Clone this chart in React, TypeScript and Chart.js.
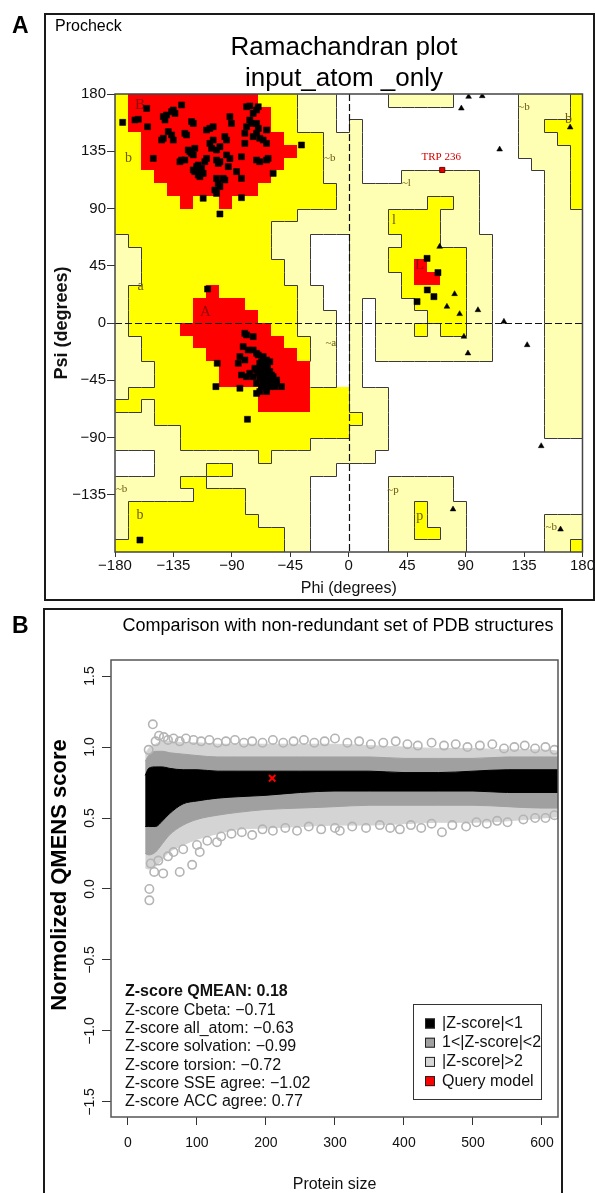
import React, { useEffect, useRef } from "react";
import { Chart, registerables } from "chart.js";

Chart.register(...registerables);

const SANS = "'Liberation Sans', Arial, Helvetica, sans-serif";
const SERIF = "'Liberation Serif', 'DejaVu Serif', 'Times New Roman', serif";
Chart.defaults.font.family = SANS;

const MINUS = "\u2212";
const signed = (v: number, digits = 0) => (v < 0 ? MINUS : "") + Math.abs(v).toFixed(digits);

// ================= Panel A : Ramachandran plot =================
const PHI_TICKS = [-180, -135, -90, -45, 0, 45, 90, 135, 180];
const PSI_TICKS = [-135, -90, -45, 0, 45, 90, 135, 180];
const CELL_DEG = 10;
// rows: psi 180 -> -180 ; columns: phi -180 -> 180 (10 degree cells)
// R = most favoured, Y = additional allowed, G = generously allowed, . = disallowed
const REGION_ROWS = [
  "YRRRRRRRRRRYYYGGG." + "...GGGGG.....GGGGY",
  "YRRRRRRRRRRRYYGGG." + ".............GGGGY",
  "YRRRRRRRRRRRYYGGG." + "G............GGYYY",
  "YYRRRRRRRRRRRYYYGG" + "G............GGGYY",
  "YYRRRRRRRRRRRRYYGG" + "G............GGGGY",
  "YYRRRRRRRRRRRYYYGG" + "G.............GGGY",
  "YYYRRRRRRRRRYYYYGG" + "G...GGGGGG.....GGY",
  "YYYYRRRRRRRYYYYYYG" + "GGGGGGGGGG.....GGY",
  "YYYYYRYYRYYYYYYYYG" + "GGGGGGYYGG.....GGY",
  "YYYYYYYYYYYYYYGGGG" + "GGGYYYYGGG.....GGG",
  "YYYYYYYYYYYYGGGGGG" + "GGGYYYYGGG.....GGG",
  "GYYYYYYYYYYYGGG..." + "GGGGYYYGGGG....GGG",
  "GGYYYYYYYYYYGGG..." + "GGGYYYYYYGG....GGG",
  "GGYYYYYYYYYYYGG..." + "GGGYYRYYYGG....GGG",
  "GGYYYYYYYYYYYGG..." + "GGGGYRRYYGG....GGG",
  "GYYYYYYRYYYYYYGG.." + "GGGGYYYYYGG....GGG",
  "GYYYYYRRRRYYYYGG.." + "G.GGGYYYYGG....GGG",
  "GYYYYYRRRRRYYYGGG." + "G.GGGGYYYGG....GGG",
  "GYYYYRRRRRRRYYGGG." + "G.GGGYGYYGG....GGG",
  "GGYYYYRRRRRRRYYGG." + "G.GGGGGGGGG....GGG",
  "GGYYYYYRRRRRRRYGG." + "G.GGGGGGGGG....GGG",
  "GGGYYYYYRRRRRRRGG." + "G..............GGG",
  "GGGYYYYYRRRRRRRGG." + "G..............GGG",
  "GYYYYYYYYYYRRRRYYY" + "GGG............GGG",
  "YYGYYYYYYYYRRRRYYY" + "GGG............GGG",
  "GGGYYYYYYYYYYYYYYY" + "YGG............GGG",
  "GGGGGYYYYYYYYYYYYY" + "GGG............GGG",
  "GGGGGYYYYYYYYYYGGG" + "GGG...............",
  "...GGGGGGGGYGGGGGG" + "GG................",
  "...GGGGYYGGGGGGGG." + "..................",
  "GGGGGYYGGGGGGGG..." + "...GGGGG..........",
  "GGGGGGYYYYGGGGG..." + "...GGGGG..........",
  "GYYYYYYYYYGGGGG..." + "...GGYGGG.........",
  "GYYYYYYYYYYGGGG..." + "...GGYGGG......GGG",
  "GYYYYYYYYYYYYGG..." + "...GGYYGG......GGG",
  "YYYYYYYYYYYYYGG..." + "...GGGGGG......GGY",
];
const REGION_COLORS: Record<string, string> = { R: "#ff0000", Y: "#ffff00", G: "#ffffb4", ".": "#ffffff" };

// non-glycine residues (black squares)
const RESIDUE_PHI = [
  -174.1, -164.6, -162.1, -155.6, -154.9, -142.8, -141.5, -140.3, -136.4, -135.1, -133.8, -128.7, -121.0, -119.7,
  -144.1, -142.8, -136.4, -135.1, -139.0, -126.2, -124.9, -150.5, -128.7, -126.2, -130.0, -123.6, -122.3, -121.0,
  -119.7, -118.5, -117.2, -115.9, -114.6, -113.3, -112.1, -110.8, -109.5, -119.7, -118.5, -115.9, -114.6, -106.9,
  -104.4, -105.6, -101.8, -99.2, -109.5, -106.9, -104.4, -101.8, -100.5, -99.2, -101.8, -100.5, -99.2, -103.1,
  -101.8, -95.4, -94.1, -91.5, -90.3, -96.7, -95.4, -86.4, -82.6, -82.6, -80.0, -80.0, -78.7, -76.2, -74.9, -73.6,
  -71.0, -69.7, -78.7, -76.2, -73.6, -71.0, -68.5, -65.9, -63.3, -71.0, -68.5, -63.3, -62.1, -58.2, -36.4, -112.1,
  -82.6, -99.2, -71.0, -69.7, -63.3, -94.1, -91.5, -92.8, -160.8,
  -108.7, -80.0, -78.7, -73.6, -81.3, -77.4, -73.6, -71.0, -69.7, -65.9, -63.3, -60.8, -68.5, -67.2, -64.6, -63.3,
  -62.1, -60.8, -58.2, -59.5, -65.9, -67.2, -63.3, -71.0, -73.6, -76.2, -78.7, -82.6, -83.8, -85.1, -83.8, -80.0,
  -55.6, -51.8, -101.3, -102.3, -78.0, -65.9, -64.6, -62.1, -68.5, -71.0, -55.6, -56.9, -63.3, -67.2, -69.7, -72.3,
  -60.8, -63.3, -65.4, -62.6, -68.5, -71.0, -59.5, -65.9, -67.2, -64.6,
  60.3, 68.7, 60.5, 65.6, 52.6,
];
const RESIDUE_PSI = [
  157.7, 159.6, 160.1, 168.7, 154.3, 162.2, 159.6, 163.5, 166.1, 167.4, 164.8, 171.4, 158.3, 156.9,
  143.8, 145.2, 147.8, 143.8, 150.4, 149.1, 147.8, 129.4, 128.1, 128.1, 126.8, 136.0, 134.7, 133.4,
  132.1, 137.3, 122.9, 124.2, 120.3, 121.6, 117.6, 126.8, 129.4, 120.3, 119.0, 116.3, 115.0, 141.2,
  143.8, 137.3, 136.0, 138.6, 151.7, 153.0, 154.3, 128.1, 125.5, 126.8, 113.7, 109.8, 107.2, 104.5,
  101.9, 146.5, 143.8, 162.2, 156.9, 113.7, 112.4, 119.0, 113.7, 130.7, 141.2, 149.1, 154.3, 159.6, 156.9, 164.8,
  167.4, 170.0, 170.0, 170.6, 146.5, 149.1, 145.2, 143.8, 141.2, 128.1, 126.8, 128.1, 129.4, 117.6, 139.9, 98.0,
  98.5, 85.7, 156.9, 153.0, 151.7, 132.1, 129.4, 122.9, -170.6,
  26.7, -8.1, -9.4, -10.7, -18.6, -21.2, -21.2, -23.8, -25.1, -26.4, -29.1, -30.4, -31.7, -34.3, -35.6, -36.9,
  -39.5, -38.2, -42.2, -44.8, -47.4, -50.0, -51.3, -47.4, -42.2, -39.5, -42.2, -40.9, -51.3, -31.7, -26.4, -29.1,
  -44.8, -50.0, -31.7, -50.0, -75.7, -40.9, -43.5, -46.1, -53.9, -55.3, -47.4, -50.0, -53.9, -36.9, -39.5, -35.6,
  -50.0, -44.8, -39.0, -33.5, -43.5, -36.9, -40.9, -44.8, -30.4, -31.7,
  50.8, 39.6, 26.0, 20.7, 16.8,
];
// glycine residues (black triangles)
const GLYCINE_PHI = [92.3, 102.8, 86.7, 116.2, 170.5, 70.0, 81.5, 75.6, 85.4, 99.5, 119.5, 88.7, 91.8, 137.4, 148.2, 80.3, 163.1];
const GLYCINE_PSI = [177.9, 178.4, 168.7, 136.5, 153.8, 60.0, 22.8, 12.9, 7.1, 10.2, 1.1, -10.7, -23.8, -17.3, -96.7, -146.4, -162.2];
// flagged residue in disallowed region
const FLAGGED_PHI = [72.0];
const FLAGGED_PSI = [120.3];
const FLAGGED_NAME = ["TRP 236"];
// region labels
const REGION_LABEL_TEXT = ["B", "b", "a", "A", "~b", "~a", "~b", "b", "~l", "l", "L", "~b", "b", "~p", "p", "~b"];
const REGION_LABEL_PHI = [-160.8, -169.7, -160.3, -110.3, -14.6, -13.8, -174.9, -160.8, 44.4, 34.9, 54.6, 134.9, 169.2, 34.1, 54.6, 155.9];
const REGION_LABEL_PSI = [171.4, 129.4, 28.6, 8.9, 129.4, -16.0, -130.7, -150.9, 109.8, 80.4, 45.6, 170.0, 160.1, -131.2, -151.7, -160.1];
const RAMA_TITLE = ["Ramachandran plot", "input_atom _only"];

// ================= Panel B : QMEAN comparison =================
const SIZE_TICKS = [0, 100, 200, 300, 400, 500, 600];
const SCORE_TICKS = [-1.5, -1.0, -0.5, 0.0, 0.5, 1.0, 1.5];
const SIZE_GRID = [25, 30, 40, 50, 60, 80, 100, 130, 160, 200, 250, 300, 350, 400, 450, 500, 550, 600, 625];
const BLACK_UPPER = [0.80, 0.85, 0.86, 0.86, 0.85, 0.84, 0.84, 0.83, 0.83, 0.83, 0.83, 0.83, 0.83, 0.82, 0.82, 0.83, 0.84, 0.84, 0.84];
const BLACK_LOWER = [0.44, 0.44, 0.44, 0.48, 0.53, 0.60, 0.62, 0.64, 0.65, 0.66, 0.68, 0.69, 0.69, 0.69, 0.69, 0.69, 0.68, 0.68, 0.68];
const GREY_UPPER = [0.90, 0.94, 0.97, 0.97, 0.96, 0.95, 0.94, 0.93, 0.93, 0.93, 0.93, 0.93, 0.93, 0.92, 0.92, 0.92, 0.93, 0.93, 0.93];
const GREY_LOWER = [0.25, 0.24, 0.26, 0.32, 0.38, 0.45, 0.49, 0.52, 0.54, 0.56, 0.57, 0.58, 0.59, 0.59, 0.59, 0.59, 0.58, 0.57, 0.57];
const LIGHT_UPPER = [0.95, 0.99, 1.02, 1.04, 1.04, 1.03, 1.03, 1.02, 1.02, 1.02, 1.02, 1.02, 1.01, 1.00, 0.99, 0.99, 0.98, 0.98, 0.97];
const LIGHT_LOWER = [0.15, 0.14, 0.16, 0.21, 0.26, 0.31, 0.35, 0.39, 0.42, 0.43, 0.44, 0.45, 0.45, 0.46, 0.47, 0.47, 0.48, 0.50, 0.51];
// individual circles visible at the edges of the cloud
const OUTLIER_SIZE = [
  30, 36, 40, 45, 52, 58, 66, 75, 84, 95, 106, 118, 130, 142, 155, 168, 180, 195, 210, 225, 240, 255,
  270, 285, 300, 318, 335, 352, 370, 388, 405, 420, 440, 458, 475, 492, 510, 528, 545, 560, 575, 590, 605, 618,
  31, 31, 33, 38, 44, 51, 58, 66, 75, 80, 93, 100, 104, 115, 129, 135, 150, 165, 180, 195, 210, 228, 245,
  262, 280, 300, 307, 325, 345, 365, 380, 394, 410, 425, 440, 455, 470, 490, 505, 520, 535, 550, 573, 590, 605, 618,
];
const OUTLIER_SCORE = [
  0.98, 1.16, 1.04, 1.08, 1.07, 1.05, 1.06, 1.04, 1.06, 1.05, 1.04, 1.05, 1.03, 1.04, 1.05, 1.03, 1.04, 1.03, 1.05, 1.03, 1.04, 1.05,
  1.03, 1.04, 1.06, 1.03, 1.04, 1.02, 1.03, 1.04, 1.02, 1.01, 1.03, 1.01, 1.02, 1.00, 1.01, 1.02, 0.99, 1.00, 1.01, 0.99, 1.00, 0.98,
  0.00, -0.08, 0.18, 0.12, 0.20, 0.11, 0.23, 0.26, 0.12, 0.28, 0.17, 0.31, 0.26, 0.34, 0.33, 0.37, 0.39, 0.40, 0.38, 0.42, 0.41, 0.43, 0.41,
  0.44, 0.42, 0.43, 0.41, 0.44, 0.43, 0.45, 0.43, 0.42, 0.45, 0.43, 0.46, 0.40, 0.45, 0.44, 0.47, 0.46, 0.48, 0.47, 0.49, 0.50, 0.50, 0.52,
];
const QUERY_SIZE = [209];
const QUERY_SCORE = [0.78];
const ZSCORE_LINES = [
  "Z-score QMEAN: 0.18",
  "Z-score Cbeta: \u22120.71",
  "Z-score all_atom: \u22120.63",
  "Z-score solvation: \u22120.99",
  "Z-score torsion: \u22120.72",
  "Z-score SSE agree: \u22121.02",
  "Z-score ACC agree: 0.77",
];
const LEGEND_LABELS = ["|Z-score|<1", "1<|Z-score|<2", "|Z-score|>2", "Query model"];
const LEGEND_COLORS = ["#000000", "#a0a0a0", "#d6d6d6", "#ff0000"];
const QMEAN_TITLE = "Comparison with non-redundant set of PDB structures";

const toPoints = (xs: number[], ys: number[]) => xs.map((x, i) => ({ x, y: ys[i] }));

function RamachandranChart() {
  const ref = useRef<HTMLCanvasElement | null>(null);
  useEffect(() => {
    if (!ref.current) return;
    const regionPlugin = {
      id: "ramaRegions",
      beforeDatasetsDraw(chart: any) {
        const { ctx, chartArea: a, scales } = chart;
        const x = scales.x, y = scales.y;
        ctx.save();
        ctx.beginPath();
        ctx.rect(a.left, a.top, a.right - a.left, a.bottom - a.top);
        ctx.clip();
        for (let r = 0; r < REGION_ROWS.length; r++) {
          const row = REGION_ROWS[r];
          for (let c = 0; c < row.length; c++) {
            const phi0 = -180 + c * CELL_DEG, psi0 = 180 - r * CELL_DEG;
            const xl = Math.round(x.getPixelForValue(phi0)), xr = Math.round(x.getPixelForValue(phi0 + CELL_DEG));
            const yt = Math.round(y.getPixelForValue(psi0)), yb = Math.round(y.getPixelForValue(psi0 - CELL_DEG));
            ctx.fillStyle = REGION_COLORS[row[c]] || "#ffffff";
            ctx.fillRect(xl, yt, xr - xl, yb - yt);
          }
        }
        const isEdge = (p: string, q: string) => {
          const s = p + q;
          return s === "G." || s === ".G" || s === "YG" || s === "GY";
        };
        ctx.strokeStyle = "#3a3a3a";
        ctx.lineWidth = 1;
        ctx.beginPath();
        for (let r = 0; r < REGION_ROWS.length; r++) {
          const row = REGION_ROWS[r];
          for (let c = 0; c < row.length; c++) {
            const phi0 = -180 + c * CELL_DEG, psi0 = 180 - r * CELL_DEG;
            const xl = Math.round(x.getPixelForValue(phi0)) + 0.5, xr = Math.round(x.getPixelForValue(phi0 + CELL_DEG)) + 0.5;
            const yt = Math.round(y.getPixelForValue(psi0)) + 0.5, yb = Math.round(y.getPixelForValue(psi0 - CELL_DEG)) + 0.5;
            if (c + 1 < row.length && isEdge(row[c], row[c + 1])) { ctx.moveTo(xr, yt); ctx.lineTo(xr, yb); }
            if (r + 1 < REGION_ROWS.length && isEdge(row[c], REGION_ROWS[r + 1][c])) { ctx.moveTo(xl, yb); ctx.lineTo(xr, yb); }
          }
        }
        ctx.stroke();
        // zero lines
        ctx.setLineDash([7, 3]);
        ctx.strokeStyle = "#111";
        ctx.lineWidth = 1.2;
        const x0 = Math.round(x.getPixelForValue(0)) + 0.5, y0 = Math.round(y.getPixelForValue(0)) + 0.5;
        ctx.beginPath();
        ctx.moveTo(x0, a.top); ctx.lineTo(x0, a.bottom);
        ctx.moveTo(a.left, y0); ctx.lineTo(a.right, y0);
        ctx.stroke();
        ctx.setLineDash([]);
        // region labels
        ctx.textAlign = "center";
        ctx.textBaseline = "middle";
        REGION_LABEL_TEXT.forEach((t, i) => {
          const px = x.getPixelForValue(REGION_LABEL_PHI[i]);
          const py = y.getPixelForValue(REGION_LABEL_PSI[i]);
          if (t.startsWith("~")) { ctx.font = `11px ${SERIF}`; ctx.fillStyle = "#6b5a10"; }
          else if (t === t.toUpperCase()) { ctx.font = `15px ${SERIF}`; ctx.fillStyle = "#8a0a0a"; }
          else { ctx.font = `14px ${SERIF}`; ctx.fillStyle = "#6b5a10"; }
          ctx.fillText(t, px, py);
        });
        // flagged residue name
        ctx.font = `11px ${SERIF}`;
        ctx.fillStyle = "#d40000";
        FLAGGED_NAME.forEach((t, i) => {
          ctx.fillText(t, x.getPixelForValue(FLAGGED_PHI[i]) - 1, y.getPixelForValue(FLAGGED_PSI[i]) - 13);
        });
        ctx.restore();
      },
      afterDraw(chart: any) {
        const { ctx, chartArea: a } = chart;
        ctx.save();
        ctx.strokeStyle = "#444";
        ctx.lineWidth = 1.5;
        ctx.strokeRect(a.left, a.top, a.right - a.left, a.bottom - a.top);
        ctx.strokeStyle = "#1a1a1a";
        ctx.lineWidth = 2;
        ctx.strokeRect(45, 14, 549, 586);
        ctx.fillStyle = "#000";
        ctx.textBaseline = "alphabetic";
        ctx.textAlign = "left";
        ctx.font = `bold 23px ${SANS}`;
        ctx.fillText("A", 12, 33);
        ctx.font = `16px ${SANS}`;
        ctx.fillText("Procheck", 55, 31);
        ctx.textAlign = "center";
        ctx.font = `26px ${SANS}`;
        ctx.fillText(RAMA_TITLE[0], 344, 55);
        ctx.fillText(RAMA_TITLE[1], 344, 86);
        ctx.restore();
      },
    };
    const chart = new Chart(ref.current, {
      type: "scatter",
      data: {
        datasets: [
          { label: "Flagged", data: toPoints(FLAGGED_PHI, FLAGGED_PSI), pointStyle: "rect", pointRadius: 3.6, backgroundColor: "#e00000", borderColor: "#700000", borderWidth: 1 },
          { label: "Residues", data: toPoints(RESIDUE_PHI, RESIDUE_PSI), pointStyle: "rect", pointRadius: 4.3, backgroundColor: "#000", borderColor: "#000", borderWidth: 0.5 },
          { label: "Glycine", data: toPoints(GLYCINE_PHI, GLYCINE_PSI), pointStyle: "triangle", pointRadius: 3.3, backgroundColor: "#000", borderColor: "#000", borderWidth: 0.5 },
        ],
      } as any,
      options: {
        responsive: false,
        animation: false,
        events: [],
        layout: { padding: { top: 94, right: 12, left: 0, bottom: 0 } },
        plugins: { legend: { display: false }, tooltip: { enabled: false }, title: { display: false } },
        scales: {
          x: {
            type: "linear", min: -180, max: 180,
            afterBuildTicks: (s: any) => { s.ticks = PHI_TICKS.map((v) => ({ value: v })); },
            afterFit: (s: any) => { s.height = 52; },
            grid: { drawOnChartArea: false, drawTicks: true, tickLength: 5, color: "#333" },
            border: { display: false },
            ticks: { autoSkip: false, maxRotation: 0, padding: 0, color: "#111", font: { size: 15, family: SANS }, callback: (v: any) => signed(Number(v)) },
            title: { display: true, text: "Phi (degrees)", color: "#111", font: { size: 16, family: SANS }, padding: { top: 0, bottom: 6 } },
          },
          y: {
            type: "linear", min: -180, max: 180,
            afterBuildTicks: (s: any) => { s.ticks = PSI_TICKS.map((v) => ({ value: v })); },
            afterFit: (s: any) => { s.width = 115; },
            grid: { drawOnChartArea: false, drawTicks: true, tickLength: 8, color: "#333" },
            border: { display: false },
            ticks: { autoSkip: false, padding: 1, color: "#111", font: { size: 15, family: SANS }, callback: (v: any) => signed(Number(v)) },
            title: { display: true, text: "Psi (degrees)", color: "#111", font: { size: 18, weight: "bold", family: SANS }, padding: { top: 51, bottom: 0 } },
          },
        },
      } as any,
      plugins: [regionPlugin],
    });
    return () => chart.destroy();
  }, []);
  return <canvas ref={ref} width={595} height={604} style={{ position: "absolute", left: 0, top: 0 }} />;
}

function QmeanChart() {
  const ref = useRef<HTMLCanvasElement | null>(null);
  useEffect(() => {
    if (!ref.current) return;
    const qmeanPlugin = {
      id: "qmeanDecor",
      afterDraw(chart: any) {
        const { ctx, chartArea: a, scales } = chart;
        const y = scales.y;
        ctx.save();
        ctx.strokeStyle = "#555";
        ctx.lineWidth = 1.5;
        ctx.strokeRect(a.left, a.top, a.right - a.left, a.bottom - a.top);
        // outer panel frame
        ctx.strokeStyle = "#1a1a1a";
        ctx.lineWidth = 2;
        ctx.strokeRect(44, 5, 518, 700);
        // rotated y tick labels
        ctx.fillStyle = "#111";
        ctx.font = `14px ${SANS}`;
        ctx.textAlign = "center";
        ctx.textBaseline = "middle";
        SCORE_TICKS.forEach((v) => {
          ctx.save();
          ctx.translate(90, y.getPixelForValue(v));
          ctx.rotate(-Math.PI / 2);
          ctx.fillText(signed(v, 1), 0, 0);
          ctx.restore();
        });
        // y title
        ctx.save();
        ctx.translate(60, 271);
        ctx.rotate(-Math.PI / 2);
        ctx.font = `bold 22px ${SANS}`;
        ctx.fillStyle = "#000";
        ctx.fillText("Normolized QMENS score", 0, 0);
        ctx.restore();
        // panel letter and title
        ctx.fillStyle = "#000";
        ctx.textBaseline = "alphabetic";
        ctx.textAlign = "left";
        ctx.font = `bold 23px ${SANS}`;
        ctx.fillText("B", 12, 29);
        ctx.textAlign = "center";
        ctx.font = `18px ${SANS}`;
        ctx.fillText(QMEAN_TITLE, 338, 27);
        // z-score block
        ctx.textAlign = "left";
        ctx.textBaseline = "middle";
        ZSCORE_LINES.forEach((t, i) => {
          ctx.font = i === 0 ? `bold 16px ${SANS}` : `16px ${SANS}`;
          ctx.fillStyle = "#111";
          ctx.fillText(t, a.left + 14, 388 + i * 18.3);
        });
        // legend
        const lx = 413.5, ly = 400.5, lw = 128, lh = 95;
        ctx.strokeStyle = "#333";
        ctx.lineWidth = 1;
        ctx.fillStyle = "#fff";
        ctx.fillRect(lx, ly, lw, lh);
        ctx.strokeRect(lx, ly, lw, lh);
        LEGEND_LABELS.forEach((t, i) => {
          const cy = 419.5 + i * 19.2;
          ctx.fillStyle = LEGEND_COLORS[i];
          ctx.fillRect(425, cy - 5, 10, 10);
          ctx.strokeStyle = "#222";
          ctx.strokeRect(425.5, cy - 4.5, 9, 9);
          ctx.fillStyle = "#111";
          ctx.font = `16px ${SANS}`;
          ctx.fillText(t, 442, cy);
        });
        ctx.restore();
      },
    };
    const band = (vals: number[], fill: any, color: string) => ({
      type: "line",
      data: toPoints(SIZE_GRID, vals),
      fill,
      backgroundColor: color,
      borderColor: color,
      borderWidth: 1,
      pointRadius: 0,
      cubicInterpolationMode: "monotone",
    });
    const chart = new Chart(ref.current, {
      type: "scatter",
      data: {
        datasets: [
          { label: "Query model", data: toPoints(QUERY_SIZE, QUERY_SCORE), pointStyle: "crossRot", pointRadius: 4.5, borderColor: "#ff0000", backgroundColor: "#ff0000", borderWidth: 2 },
          { label: "Edge circles", data: toPoints(OUTLIER_SIZE, OUTLIER_SCORE), pointStyle: "circle", pointRadius: 4.2, borderColor: "#b4b4b4", backgroundColor: "rgba(0,0,0,0)", borderWidth: 1.6 },
          band(BLACK_UPPER, "+1", "#000000"),
          band(BLACK_LOWER, false, "#000000"),
          band(GREY_UPPER, "+1", "#a0a0a0"),
          band(GREY_LOWER, false, "#a0a0a0"),
          band(LIGHT_UPPER, "+1", "#d4d4d4"),
          band(LIGHT_LOWER, false, "#d4d4d4"),
        ],
      } as any,
      options: {
        responsive: false,
        animation: false,
        events: [],
        layout: { padding: { top: 56, right: 37, left: 0, bottom: 0 } },
        plugins: { legend: { display: false }, tooltip: { enabled: false }, title: { display: false } },
        scales: {
          x: {
            type: "linear", min: -24.6, max: 623.2,
            afterBuildTicks: (s: any) => { s.ticks = SIZE_TICKS.map((v) => ({ value: v })); },
            afterFit: (s: any) => { s.height = 76; },
            grid: { drawOnChartArea: false, drawTicks: true, tickLength: 8, color: "#333" },
            border: { display: false },
            ticks: { autoSkip: false, maxRotation: 0, padding: 10, color: "#111", font: { size: 14, family: SANS } },
            title: { display: true, text: "Protein size", color: "#111", font: { size: 16, family: SANS, lineHeight: 1 }, padding: { top: 0, bottom: 0 } },
          },
          y: {
            type: "linear", min: -1.606, max: 1.613,
            afterBuildTicks: (s: any) => { s.ticks = SCORE_TICKS.map((v) => ({ value: v })); },
            afterFit: (s: any) => { s.width = 111; },
            grid: { drawOnChartArea: false, drawTicks: true, tickLength: 9, color: "#333" },
            border: { display: false },
            ticks: { display: false },
          },
        },
      } as any,
      plugins: [qmeanPlugin],
    });
    return () => chart.destroy();
  }, []);
  return <canvas ref={ref} width={595} height={589} style={{ position: "absolute", left: 0, top: 604 }} />;
}

export default function App() {
  return (
    <div style={{ position: "absolute", left: 0, top: 0, width: 595, height: 1193, overflow: "hidden", background: "#fff" }}>
      <RamachandranChart />
      <QmeanChart />
    </div>
  );
}
